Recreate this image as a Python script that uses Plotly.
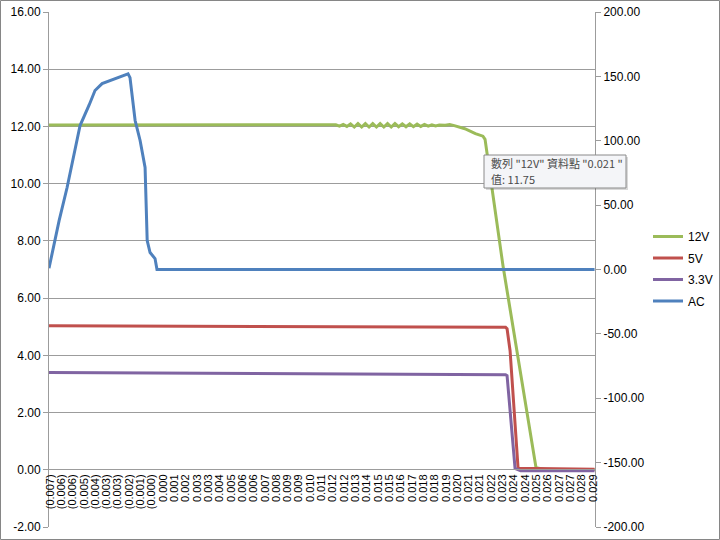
import plotly.graph_objects as go

# ---------------- data ----------------
tick_labels = ["(0.007)", "(0.006)", "(0.006)", "(0.005)", "(0.004)", "(0.003)", "(0.003)",
               "(0.002)", "(0.001)", "(0.000)", "0.000", "0.001", "0.002", "0.003", "0.003",
               "0.004", "0.005", "0.006", "0.006", "0.007", "0.008", "0.009", "0.009", "0.010",
               "0.011", "0.012", "0.012", "0.013", "0.014", "0.015", "0.015", "0.016", "0.017",
               "0.018", "0.018", "0.019", "0.020", "0.021", "0.021", "0.022", "0.023", "0.024",
               "0.024", "0.025", "0.026", "0.027", "0.027", "0.028", "0.029"]
tick_start = -0.0072
tick_step = 0.00075

t_12v = [-0.00727, 0.01150, 0.011745, 0.01199, 0.012235, 0.01248, 0.012725, 0.01297, 0.013215,
         0.01346, 0.013705, 0.01395, 0.014195, 0.01444, 0.014685, 0.01493, 0.015175, 0.01542,
         0.015665, 0.01591, 0.016155, 0.0164, 0.016645, 0.01689, 0.017135, 0.01738, 0.017625,
         0.01787, 0.018115, 0.01836, 0.018605, 0.0190, 0.0193, 0.0196, 0.0203, 0.0210, 0.0215,
         0.02164, 0.02283, 0.02502, 0.0256, 0.0289]
v_12v = [12.05, 12.04, 12.06, 12.01, 12.07, 12.00, 12.09, 11.98, 12.10, 11.98, 12.10, 11.98,
         12.10, 11.98, 12.10, 11.98, 12.10, 11.98, 12.10, 11.99, 12.09, 11.99, 12.09, 11.99,
         12.08, 12.00, 12.07, 12.01, 12.06, 12.02, 12.05, 12.04, 12.07, 12.03, 11.92, 11.75,
         11.66, 11.55, 7.13, 0.07, 0.01, 0.01]

t_5v = [-0.00727, 0.0230, 0.02310, 0.02330, 0.02383, 0.0289]
v_5v = [5.03, 4.98, 4.93, 4.16, 0.05, 0.02]

t_33v = [-0.00727, 0.0230, 0.02310, 0.02330, 0.02363, 0.0240, 0.0289]
v_33v = [3.40, 3.32, 3.29, 2.17, 0.05, -0.03, -0.03]

t_ac = [-0.00727, -0.00660, -0.00607, -0.00521, -0.00460, -0.00422, -0.00375, -0.00276,
        -0.00203, -0.00190, -0.00156, -0.00123, -0.00090, -0.00076, -0.00057, -0.00024,
        -0.00011, 0.0289]
v_ac = [1.0, 38.0, 63.7, 111.8, 128.0, 139.0, 144.4, 149.0, 152.0, 149.0, 115.7, 100.2,
        79.2, 22.5, 13.2, 8.5, 0.0, 0.0]

left_ticks = [-2, 0, 2, 4, 6, 8, 10, 12, 14, 16]
right_ticks = [-200, -150, -100, -50, 0, 50, 100, 150, 200]

tooltip_line1 = "數列 \"12V\" 資料點 \"0.021 \""
tooltip_line2 = "值: 11.75"

# ---------------- figure ----------------
GRID = "#9c9c9c"
FONT = "Liberation Sans"

fig = go.Figure()
fig.add_trace(go.Scatter(x=t_12v, y=v_12v, name="12V", mode="lines", legendgroup="g1",
                         line=dict(color="#9BBB59", width=3)))
fig.add_trace(go.Scatter(x=t_5v, y=v_5v, name="5V", mode="lines", legendgroup="g2",
                         line=dict(color="#C0504D", width=3)))
fig.add_trace(go.Scatter(x=t_33v, y=v_33v, name="3.3V", mode="lines", legendgroup="g3",
                         line=dict(color="#8064A2", width=3)))
fig.add_trace(go.Scatter(x=t_ac, y=v_ac, name="AC", mode="lines", yaxis="y2", legendgroup="g4",
                         line=dict(color="#4F81BD", width=3)))

tickvals_x = [tick_start + i * tick_step for i in range(len(tick_labels))]

L, R, T, B = 49, 125, 12, 13
W, H = 720, 540
pw, ph = W - L - R, H - T - B


def px(x):
    return (x - L) / pw


def py(y):
    return (527 - y) / ph


fig.update_layout(
    width=W, height=H,
    margin=dict(l=L, r=R, t=T, b=B, pad=0, autoexpand=False),
    paper_bgcolor="white", plot_bgcolor="white",
    font=dict(family=FONT, size=12, color="black"),
    xaxis=dict(range=[-0.00727, 0.02893], tickmode="array", tickvals=tickvals_x,
               ticktext=tick_labels, tickangle=-90, showgrid=False, zeroline=False,
               showline=True, linecolor=GRID, linewidth=1, ticks="",
               anchor="free", position=py(469), automargin=False,
               tickfont=dict(size=11, family=FONT)),
    yaxis=dict(range=[-2, 16], tickmode="array", tickvals=left_ticks,
               ticktext=[f"{v:.2f}" for v in left_ticks], automargin=False,
               showgrid=True, gridcolor=GRID, gridwidth=1, zeroline=False,
               showline=True, linecolor=GRID, ticks="outside", ticklen=5,
               tickcolor=GRID, tickfont=dict(size=12)),
    yaxis2=dict(range=[-200, 200], tickmode="array", tickvals=right_ticks,
                ticktext=[f"{v:.2f}" for v in right_ticks], automargin=False,
                overlaying="y", side="right", showgrid=False, zeroline=False,
                showline=True, linecolor=GRID, ticks="outside", ticklen=5,
                tickcolor=GRID, tickfont=dict(size=12)),
    legend=dict(x=px(648), y=py(269), xanchor="left", yanchor="middle",
                font=dict(size=12, family=FONT), bgcolor="rgba(0,0,0,0)",
                traceorder="grouped", tracegroupgap=2.5, itemwidth=30),
    showlegend=True,
)

# tooltip shadow + box
bx0, bx1, by0, by1 = 484, 626, 155, 188
fig.add_shape(type="rect", xref="paper", yref="paper",
              x0=px(bx0 + 2), x1=px(bx1 + 2), y0=py(by1 + 2), y1=py(by0 + 2),
              fillcolor="rgba(0,0,0,0.15)", line=dict(width=0), layer="above")
fig.add_shape(type="rect", xref="paper", yref="paper",
              x0=px(bx0), x1=px(bx1), y0=py(by1), y1=py(by0),
              fillcolor="#f4f5f8", line=dict(color="#8a8a8a", width=1), layer="above")
tip_font = dict(family="Noto Sans CJK TC", size=11, color="#4a4a4a")
fig.add_annotation(xref="paper", yref="paper", x=px(bx0 + 5), y=py(163),
                   xanchor="left", yanchor="middle", showarrow=False,
                   text=tooltip_line1, font=tip_font)
fig.add_annotation(xref="paper", yref="paper", x=px(bx0 + 5), y=py(178.5),
                   xanchor="left", yanchor="middle", showarrow=False,
                   text=tooltip_line2, font=tip_font)

# outer chart-area border
fig.add_shape(type="rect", xref="paper", yref="paper",
              x0=px(0.5), x1=px(W - 0.5), y0=py(H - 0.5), y1=py(0.5),
              line=dict(color="#868686", width=1), layer="above")

fig.write_html("out.html", config={"displayModeBar": False},
               post_script="document.body.style.margin='0px';document.body.style.padding='0px';")
